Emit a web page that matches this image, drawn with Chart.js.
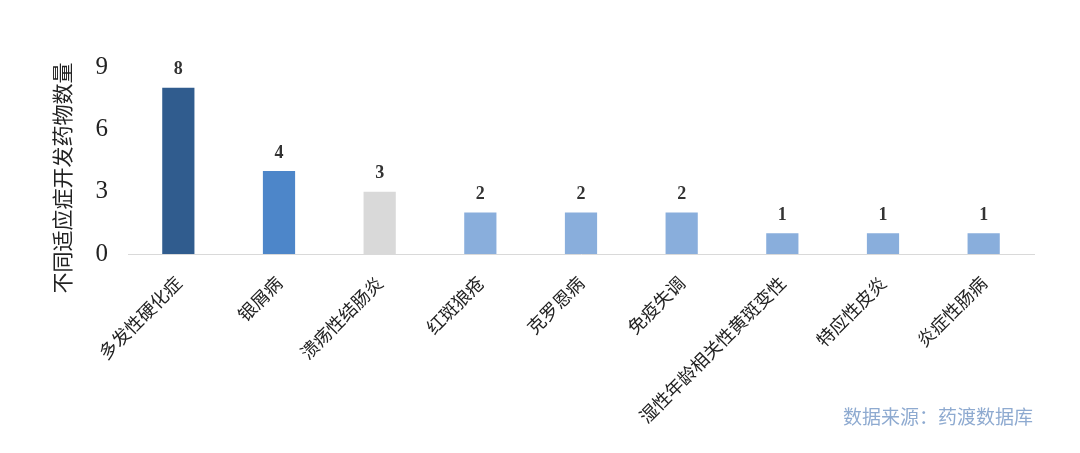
<!DOCTYPE html>
<html>
<head>
<meta charset="utf-8">
<script src="https://cdn.jsdelivr.net/npm/chart.js@4/dist/chart.umd.min.js"></script>
<style>
  html, body { margin: 0; padding: 0; background: #fff; }
  #wrap { width: 1080px; height: 453px; position: relative; }
  #source {
    position: absolute; right: 47px; top: 402px;
    font-family: "Noto Sans CJK SC", sans-serif; font-size: 19px;
    color: #8eaad0;
  }
</style>
</head>
<body>
<div id="wrap">
  <canvas id="chart" width="1080" height="453"></canvas>
  <div id="source">数据来源：药渡数据库</div>
</div>
<script>
const categories = ['多发性硬化症', '银屑病', '溃疡性结肠炎', '红斑狼疮', '克罗恩病', '免疫失调', '湿性年龄相关性黄斑变性', '特应性皮炎', '炎症性肠病'];
const drugCounts = [8, 4, 3, 2, 2, 2, 1, 1, 1];
const barColors = ['#305c8e', '#4d86c9', '#d9d9d9', '#89aedc', '#89aedc', '#89aedc', '#89aedc', '#89aedc', '#89aedc'];
const yTicks = [0, 3, 6, 9];
const yTitle = '不同适应症开发药物数量';

// values above the bars
const valueLabels = {
    id: 'valueLabels',
    afterDatasetsDraw(chart) {
        const ctx = chart.ctx;
        const meta = chart.getDatasetMeta(0);
        ctx.save();
        ctx.font = 'bold 18px "Liberation Serif", serif';
        ctx.fillStyle = '#333';
        ctx.textAlign = 'center';
        ctx.textBaseline = 'bottom';
        meta.data.forEach(function(bar, i) {
            ctx.fillText(drugCounts[i], bar.x, bar.y - 9);
        });
        ctx.restore();
    }
};

// vertical y axis title
const axisTitle = {
    id: 'axisTitle',
    afterDraw(chart) {
        const ctx = chart.ctx;
        ctx.save();
        ctx.translate(62, 178);
        ctx.rotate(-Math.PI / 2);
        ctx.font = '21px "Noto Sans CJK SC", sans-serif';
        ctx.fillStyle = '#222';
        ctx.textAlign = 'center';
        ctx.textBaseline = 'middle';
        ctx.fillText(yTitle, 0, 0);
        ctx.restore();
    }
};

new Chart(document.getElementById('chart'), {
    type: 'bar',
    data: {
        labels: categories,
        datasets: [{
            data: drugCounts,
            backgroundColor: barColors,
            barPercentage: 0.32,
            categoryPercentage: 1
        }]
    },
    options: {
        responsive: false,
        animation: false,
        layout: { padding: { top: 67, right: 46, left: 0, bottom: 0 } },
        plugins: {
            legend: { display: false },
            tooltip: { enabled: false }
        },
        scales: {
            x: {
                grid: { display: false },
                border: { color: '#d9d9d9', width: 1 },
                ticks: {
                    color: '#222',
                    font: { family: '"Noto Sans CJK SC", sans-serif', size: 18 },
                    minRotation: 45,
                    maxRotation: 45,
                    autoSkip: false,
                    padding: 10
                },
                afterFit: function(scale) { scale.height = 199; }
            },
            y: {
                min: 0,
                max: 9,
                grid: { display: false },
                border: { display: false },
                afterBuildTicks: function(scale) {
                    scale.ticks = yTicks.map(v => ({ value: v }));
                },
                ticks: {
                    color: '#222',
                    font: { family: '"Liberation Serif", serif', size: 25 },
                    padding: 12
                },
                afterFit: function(scale) { scale.width = 128; }
            }
        }
    },
    plugins: [valueLabels, axisTitle]
});
</script>
</body>
</html>
